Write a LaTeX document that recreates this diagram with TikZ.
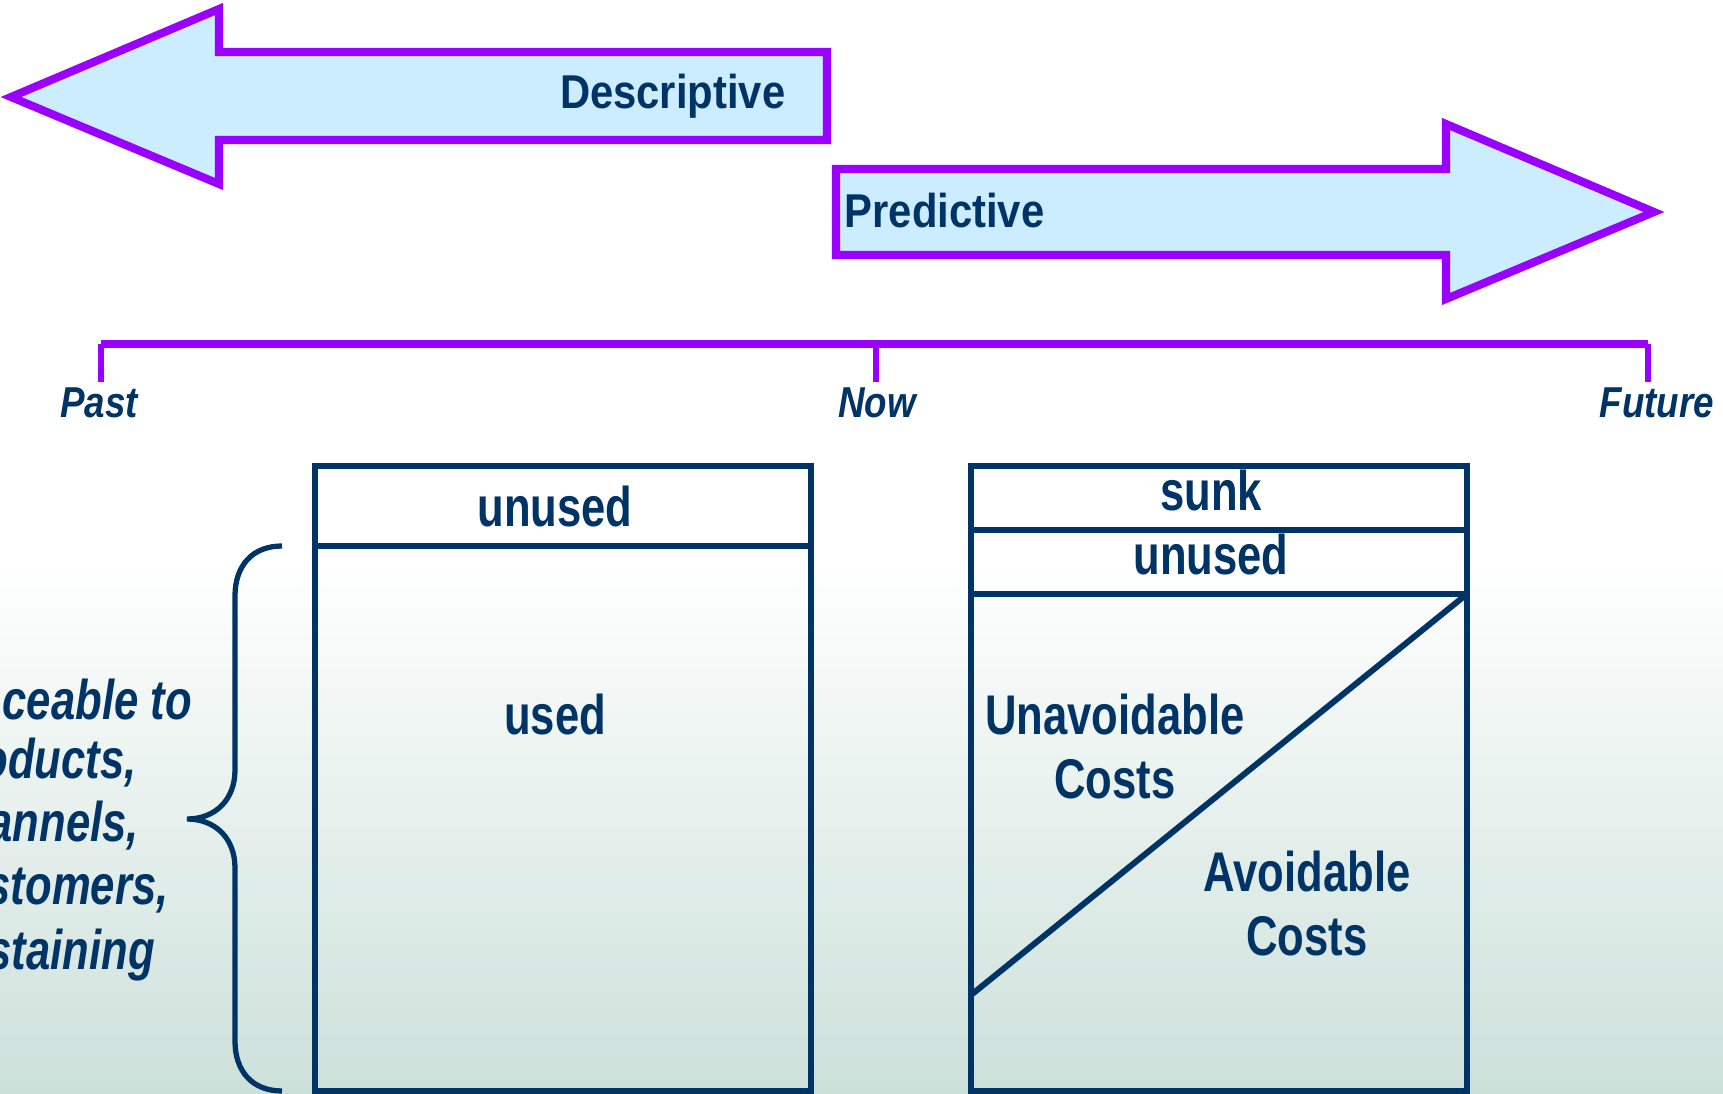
\documentclass[tikz,border=0pt]{standalone}
\usepackage{fontspec}
\setmainfont{Liberation Sans}
\newfontfamily\condfont[FakeStretch=0.78]{Liberation Sans}
\newfontfamily\arrowfont[FakeStretch=0.88]{Liberation Sans}
\newfontfamily\tickfont[FakeStretch=0.85]{Liberation Sans}
\definecolor{vpurple}{HTML}{9900FF}
\definecolor{lightfill}{HTML}{CCECFF}
\definecolor{navy}{HTML}{003366}
\definecolor{bgbottom}{HTML}{CCE0DA}
\tikzset{
  arrowshape/.style={draw=vpurple, line width=2.3pt, fill=lightfill, line join=miter},
  boxline/.style={draw=navy, line width=1.7pt},
  boxtext/.style={text=navy, align=center, inner sep=0pt, font=\fontsize{15.9}{18.2}\selectfont\condfont\bfseries},
  arrowtext/.style={text=navy, inner sep=0pt, font=\fontsize{13.5}{16}\selectfont\arrowfont\bfseries},
  ticklabel/.style={text=navy, inner sep=0pt, font=\fontsize{12.3}{14}\selectfont\tickfont\bfseries\itshape},
  sidetext/.style={text=navy, inner sep=0pt, anchor=west, font=\fontsize{15.9}{18.2}\selectfont\condfont\bfseries\itshape}
}
\begin{document}
\begin{tikzpicture}[x=0.01cm, y=-0.01cm]
    \useasboundingbox (0,0) rectangle (1723,1094);
    \fill[white] (0,0) rectangle (1723,560);
    \shade[top color=white, bottom color=bgbottom] (0,560) rectangle (1723,1094);

    % time arrows
    \draw[arrowshape] (11,97) -- (219,9) -- (219,52) -- (827,52) -- (827,140) -- (219,140) -- (219,184) -- cycle;
    \node[arrowtext, anchor=east] (desc) at (786,96) {Descriptive};
    \draw[arrowshape] (836,169) -- (1446,169) -- (1446,124) -- (1654,212) -- (1446,299) -- (1446,255) -- (836,255) -- cycle;
    \node[arrowtext, anchor=west] (pred) at (844,211) {Predictive};

    % time line
    \draw[vpurple, line width=2.3pt] (101,344) -- (1648,344);
    \foreach \x/\dx/\lab/\nm in {101/-2/Past/past, 876/1/Now/now, 1648/9/Future/future}
    {
        \draw[vpurple, line width=1.8pt] (\x,344) -- (\x,382);
        \node[ticklabel] (\nm) at (\x+\dx,403) {\lab};
    }

    % left box
    \draw[boxline] (315,466) rectangle (811,1091);
    \draw[boxline] (315,546) -- (811,546);
    \node[boxtext] (unusedL) at (555,507) {unused};
    \node[boxtext] (used) at (555,715) {used};

    % right box
    \draw[boxline] (971,466) rectangle (1467,1091);
    \foreach \y in {530,594}
        \draw[boxline] (971,\y) -- (1467,\y);
    \draw[boxline] (1467,594) -- (971,995);
    \node[boxtext] (sunk) at (1211,491) {sunk};
    \node[boxtext] (unusedR) at (1211,555) {unused};
    \node[boxtext] (unavoid) at (1115,747) {Unavoidable\\Costs};
    \node[boxtext] (avoid) at (1307,904) {Avoidable\\Costs};

    % brace and side text
    \draw[boxline, line width=1.5pt] (282,546) .. controls (252,546) and (235,566) .. (235,596) -- (235,770)
        .. controls (235,800) and (215,819) .. (187,819)
        .. controls (215,819) and (235,838) .. (235,868) -- (235,1041)
        .. controls (235,1071) and (252,1091) .. (282,1091);
    \foreach[count=\i] \x/\y/\t in {2/700/{ceable to}, -19/763/{oducts,}, -12/826/{annels,}, -14/891/{stomers,}, -13/955/{staining}}
        \node[sidetext] (side\i) at (\x,\y) {\t};
\end{tikzpicture}
\end{document}
